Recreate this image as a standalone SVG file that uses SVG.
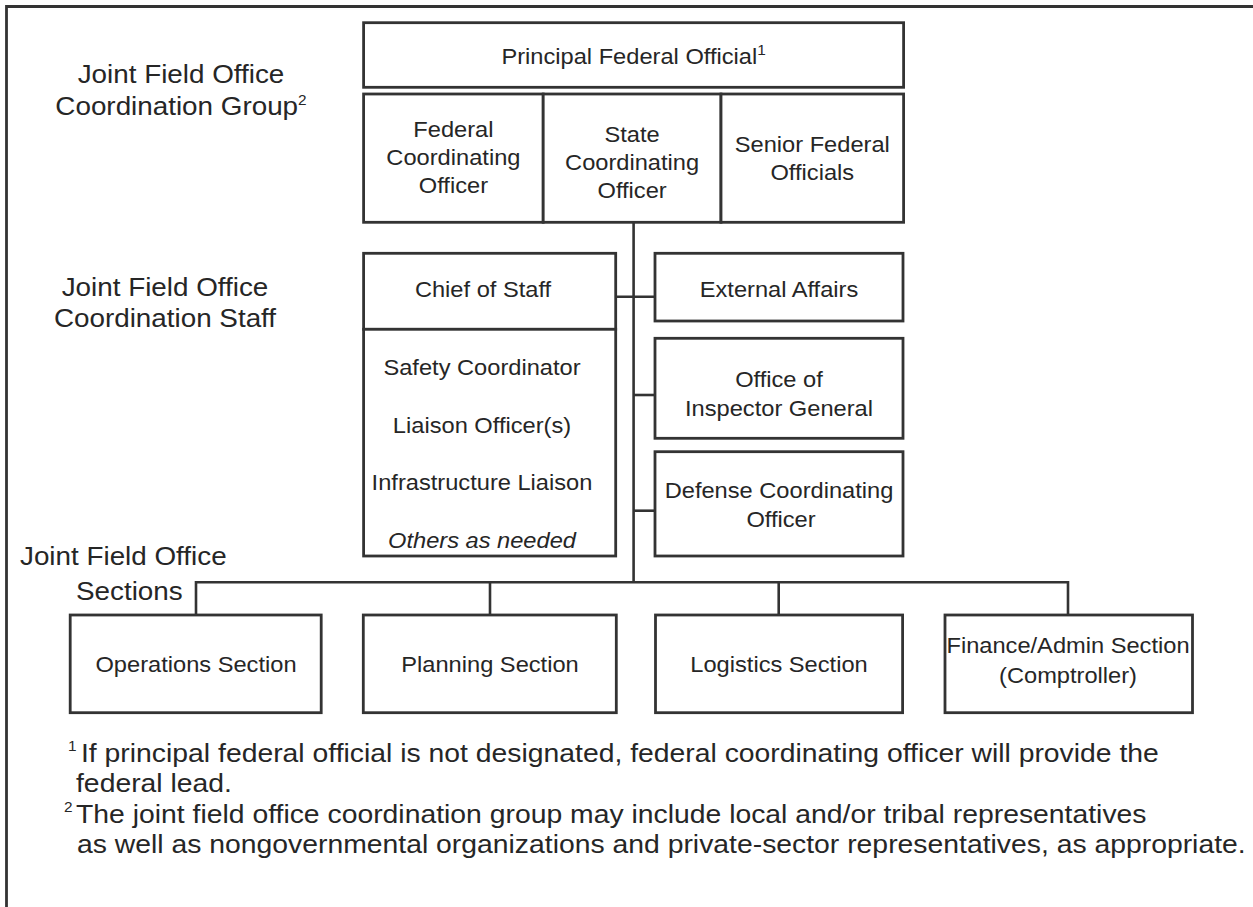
<svg xmlns="http://www.w3.org/2000/svg" width="1253" height="907" viewBox="0 0 1253 907">
  <style>
    .box { fill: #fff; stroke: #333; stroke-width: 2.8; }
    .ln { fill: none; stroke: #333; stroke-width: 2.6; }
    .frame { fill: none; stroke: #333; stroke-width: 2.8; }
    text { font-family: "Liberation Sans", Arial, Helvetica, sans-serif; fill: #262626; }
    .t { font-size: 21.5px; text-anchor: middle; }
    .lab { font-size: 25.3px; }
    .mid { text-anchor: middle; }
    .fn { font-size: 25.3px; }
    .sup { font-size: 14px; }
    .it { font-style: italic; }
  </style>

  <rect width="1253" height="907" fill="#fff"/>
  <!-- outer frame: top and left rules -->
  <path class="frame" d="M6.5 907V6.5H1253"/>

  <!-- side labels -->
  <g id="label-group">
    <text class="lab mid" transform="translate(181 83) scale(1.1 1)">Joint Field Office</text>
    <text class="lab mid" transform="translate(181 115) scale(1.1 1)">Coordination Group<tspan class="sup" dy="-10">2</tspan></text>
  </g>
  <g id="label-staff">
    <text class="lab mid" transform="translate(165 296) scale(1.1 1)">Joint Field Office</text>
    <text class="lab mid" transform="translate(165 327) scale(1.1 1)">Coordination Staff</text>
  </g>
  <g id="label-sections">
    <text class="lab" transform="translate(20 565) scale(1.1 1)">Joint Field Office</text>
    <text class="lab" transform="translate(76 600) scale(1.1 1)">Sections</text>
  </g>

  <!-- connectors -->
  <g id="connectors">
    <path class="ln" d="M633.6 222.3V582.3"/>
    <path class="ln" d="M615.7 296.7H655"/>
    <path class="ln" d="M633.6 395H655"/>
    <path class="ln" d="M633.6 510.7H655"/>
    <path class="ln" d="M196 615V582.3H1068V615"/>
    <path class="ln" d="M490 582.3V615"/>
    <path class="ln" d="M778.7 582.3V615"/>
  </g>

  <!-- coordination group -->
  <g id="pfo">
    <rect class="box" x="363.6" y="22.7" width="540" height="64.6"/>
    <text class="t" transform="translate(633.6 64) scale(1.1 1)">Principal Federal Official<tspan class="sup" font-size="12" dy="-9">1</tspan></text>
  </g>
  <g id="fco">
    <rect class="box" x="363.6" y="94" width="179.6" height="128.3"/>
    <text class="t" transform="translate(453.4 137) scale(1.1 1)">Federal</text>
    <text class="t" transform="translate(453.4 165) scale(1.1 1)">Coordinating</text>
    <text class="t" transform="translate(453.4 193) scale(1.1 1)">Officer</text>
  </g>
  <g id="sco">
    <rect class="box" x="543.2" y="94" width="177.8" height="128.3"/>
    <text class="t" transform="translate(632.1 142) scale(1.1 1)">State</text>
    <text class="t" transform="translate(632.1 170) scale(1.1 1)">Coordinating</text>
    <text class="t" transform="translate(632.1 198) scale(1.1 1)">Officer</text>
  </g>
  <g id="sfo">
    <rect class="box" x="721" y="94" width="182.6" height="128.3"/>
    <text class="t" transform="translate(812.3 151.5) scale(1.1 1)">Senior Federal</text>
    <text class="t" transform="translate(812.3 180) scale(1.1 1)">Officials</text>
  </g>

  <!-- coordination staff -->
  <g id="chief-of-staff">
    <rect class="box" x="363.6" y="253.3" width="252.1" height="76"/>
    <text class="t" transform="translate(483 297) scale(1.1 1)">Chief of Staff</text>
  </g>
  <g id="staff-list">
    <rect class="box" x="363.6" y="329.3" width="252.1" height="226.7"/>
    <text class="t" transform="translate(482 375) scale(1.1 1)">Safety Coordinator</text>
    <text class="t" transform="translate(482 432.5) scale(1.1 1)">Liaison Officer(s)</text>
    <text class="t" transform="translate(482 490) scale(1.1 1)">Infrastructure Liaison</text>
    <text class="t it" transform="translate(482 547.5) scale(1.1 1)">Others as needed</text>
  </g>
  <g id="external-affairs">
    <rect class="box" x="655" y="253.3" width="248" height="67.7"/>
    <text class="t" transform="translate(779 297) scale(1.1 1)">External Affairs</text>
  </g>
  <g id="inspector-general">
    <rect class="box" x="655" y="338.3" width="248" height="100"/>
    <text class="t" transform="translate(779 387.3) scale(1.1 1)">Office of</text>
    <text class="t" transform="translate(779 416) scale(1.1 1)">Inspector General</text>
  </g>
  <g id="defense-coordinating">
    <rect class="box" x="655" y="451.7" width="248" height="104.3"/>
    <text class="t" transform="translate(779 498) scale(1.1 1)">Defense Coordinating</text>
    <text class="t" transform="translate(781 527) scale(1.1 1)">Officer</text>
  </g>

  <!-- sections -->
  <g id="operations">
    <rect class="box" x="70.2" y="615" width="251" height="97.7"/>
    <text class="t" transform="translate(196 672) scale(1.1 1)">Operations Section</text>
  </g>
  <g id="planning">
    <rect class="box" x="363.3" y="615" width="253" height="97.7"/>
    <text class="t" transform="translate(490 672) scale(1.1 1)">Planning Section</text>
  </g>
  <g id="logistics">
    <rect class="box" x="655.5" y="615" width="247.1" height="97.7"/>
    <text class="t" transform="translate(779 672) scale(1.1 1)">Logistics Section</text>
  </g>
  <g id="finance-admin">
    <rect class="box" x="945" y="615" width="247.5" height="97.7"/>
    <text class="t" transform="translate(1068 653) scale(1.1 1)">Finance/Admin Section</text>
    <text class="t" transform="translate(1068 683) scale(1.1 1)">(Comptroller)</text>
  </g>

  <!-- footnotes -->
  <g id="footnotes">
    <text class="sup" transform="translate(68 751) scale(1.1 1)">1</text>
    <text class="fn" transform="translate(81 762) scale(1.12 1)">If principal federal official is not designated, federal coordinating officer will provide the</text>
    <text class="fn" transform="translate(76 792) scale(1.12 1)">federal lead.</text>
    <text class="sup" transform="translate(64 812) scale(1.1 1)">2</text>
    <text class="fn" transform="translate(76 823) scale(1.12 1)">The joint field office coordination group may include local and/or tribal representatives</text>
    <text class="fn" transform="translate(77 853) scale(1.12 1)">as well as nongovernmental organizations and private-sector representatives, as appropriate.</text>
  </g>
</svg>
